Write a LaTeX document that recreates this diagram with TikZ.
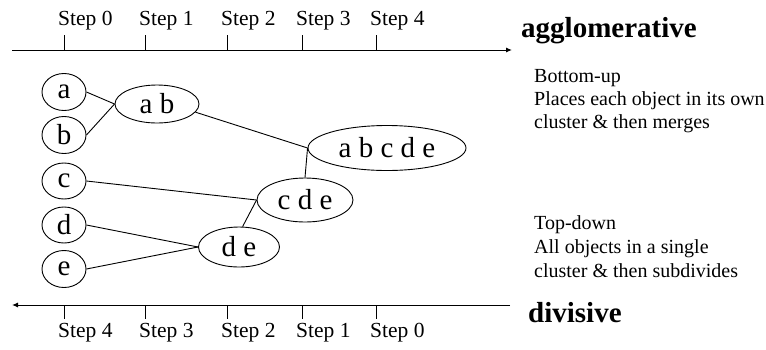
\documentclass[tikz,border=0pt]{standalone}
\usepackage{fontspec}
\setmainfont{Liberation Serif}
\usetikzlibrary{arrows.meta,shapes.geometric}
\begin{document}
\begin{tikzpicture}[x=1pt,y=-1pt,
  cl/.style={draw,ellipse,inner sep=0pt,line width=0.9pt,font=\fontsize{29}{32}\selectfont},
  ln/.style={line width=0.9pt},
  axis/.style={line width=1pt},
  tick/.style={line width=0.9pt},
  steplbl/.style={anchor=base west,inner sep=0pt,font=\fontsize{21.5}{24}\selectfont},
  desc/.style={anchor=base west,inner sep=0pt,font=\fontsize{20}{23}\selectfont},
  big/.style={anchor=base west,inner sep=0pt,font=\fontsize{29}{32}\selectfont\bfseries}]
\useasboundingbox (0,0) rectangle (766,349);
% top axis
\coordinate (tl) at (12,50);
\coordinate (tr) at (512,50);
\draw[axis,-{Latex[length=6pt,width=5pt]}] (tl) -- (tr);
\foreach \x/\s in {64/0,145/1,227/2,302/3,376/4}{
  \coordinate (ut\s) at (\x,35);
  \coordinate (ub\s) at (\x,50);
  \draw[tick] (ut\s) -- (ub\s);
  \node[steplbl] (us\s) at (\x-6,25) {Step \s};
}
% bottom axis
\coordinate (bl) at (12,305);
\coordinate (br) at (510,305);
\draw[axis,-{Latex[length=6pt,width=5pt]}] (br) -- (bl);
\foreach \x/\s in {64/4,145/3,227/2,302/1,376/0}{
  \coordinate (dt\s) at (\x,305);
  \coordinate (db\s) at (\x,319);
  \draw[tick] (dt\s) -- (db\s);
  \node[steplbl] (ds\s) at (\x-6,337) {Step \s};
}
% labels
\node[big] (agg) at (521,37) {agglomerative};
\node[big] (div) at (528,322) {divisive};
\node[desc] (t1) at (534,82) {Bottom-up};
\node[desc] (t2) at (534,105) {Places each object in its own};
\node[desc] (t3) at (534,128) {cluster \& then merges};
\node[desc] (t4) at (534,229) {Top-down};
\node[desc] (t5) at (534,253) {All objects in a single};
\node[desc] (t6) at (534,277) {cluster \& then subdivides};
% nodes
\node[cl,minimum width=44pt,minimum height=37pt] (a) at (64,92) {a};
\node[cl,minimum width=44pt,minimum height=37pt] (b) at (64,135) {b};
\node[cl,minimum width=44pt,minimum height=36pt] (c) at (64,181) {c};
\node[cl,minimum width=44pt,minimum height=36pt] (d) at (64,225) {d};
\node[cl,minimum width=44pt,minimum height=37pt] (e) at (64,269) {e};
\node[cl,minimum width=84pt,minimum height=38pt] (ab) at (157,104) {a b};
\node[cl,minimum width=158pt,minimum height=45pt] (abcde) at (387,148) {a b c d e};
\node[cl,minimum width=96pt,minimum height=44pt] (cde) at (305,200) {c d e};
\node[cl,minimum width=81pt,minimum height=40pt] (de) at (239,247) {d e};
% edges
\draw[ln] (a.east) -- (ab.west);
\draw[ln] (b.east) -- (ab.west);
\draw[ln] (ab.-12) -- (abcde.west);
\draw[ln] (cde.north) -- (abcde.west);
\draw[ln] (c.east) -- (cde.west);
\draw[ln] (de.80) -- (cde.west);
\draw[ln] (d.east) -- (de.west);
\draw[ln] (e.east) -- (de.west);
\end{tikzpicture}
\end{document}
